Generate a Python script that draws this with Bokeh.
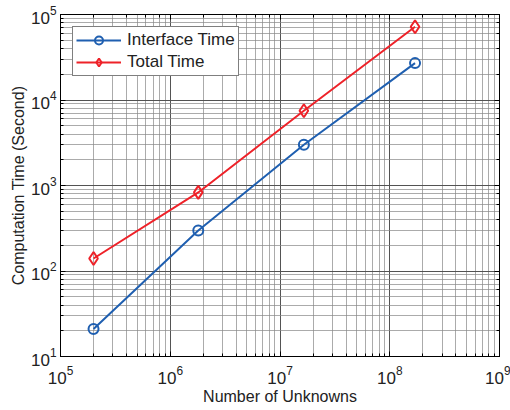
from bokeh.plotting import figure
from bokeh.models import LogAxis, Legend, LegendItem, LogTicker, Range1d
from bokeh.embed import file_html
from bokeh.resources import INLINE

unknowns = [2.0e5, 1.8e6, 1.65e7, 1.7e8]
interface_time = [21, 298, 3000, 27000]
total_time = [140, 830, 7500, 72000]

BLUE = "#1f5fb0"
RED = "#ee2229"
FONT = "Liberation Sans"

p = figure(width=510, height=410, x_axis_type="log", y_axis_type="log",
           x_range=Range1d(1e5, 1e9), y_range=Range1d(1e1, 1e5),
           output_backend="svg", toolbar_location=None,
           x_axis_label="Number of Unknowns",
           y_axis_label="Computation Time (Second)")
p.min_border_left = 60
p.min_border_right = 11
p.min_border_top = 14
p.min_border_bottom = 54
p.outline_line_color = "black"
p.outline_line_width = 1

for ax in (p.xaxis[0], p.yaxis[0]):
    ax.major_tick_in = 5
    ax.major_tick_out = 0
    ax.minor_tick_in = 3
    ax.minor_tick_out = 0
    ax.axis_line_color = "black"
    ax.major_label_text_font = FONT
    ax.major_label_text_font_size = "17px"
    ax.major_label_text_color = "#222222"
    ax.axis_label_text_font = FONT
    ax.axis_label_text_font_size = "16px"
    ax.axis_label_text_font_style = "normal"
    ax.axis_label_text_color = "#222222"
p.xaxis[0].axis_label_standoff = 1
p.yaxis[0].axis_label_standoff = 1
p.xaxis[0].major_label_standoff = 9
p.yaxis[0].major_label_standoff = 4

for loc in ("above", "right"):
    ax = LogAxis(ticker=LogTicker(), major_tick_in=5, major_tick_out=0,
                 minor_tick_in=3, minor_tick_out=0,
                 major_label_text_color=None, major_label_text_font_size="6px",
                 major_label_standoff=0)
    p.add_layout(ax, loc)

for g in (p.xgrid[0], p.ygrid[0]):
    g.grid_line_color = "#444444"
    g.grid_line_alpha = 0.8
    g.minor_grid_line_color = "#888888"
    g.minor_grid_line_alpha = 0.7

l1 = p.line(unknowns, interface_time, line_color=BLUE, line_width=2)
m1 = p.scatter(unknowns, interface_time, marker="circle", size=10,
               line_color=BLUE, line_width=2, fill_color=None)
l2 = p.line(unknowns, total_time, line_color=RED, line_width=2)
m2 = p.scatter(unknowns, total_time, marker="diamond", size=13,
               line_color=RED, line_width=2, fill_color=None)

legend = Legend(items=[LegendItem(label="Interface Time", renderers=[l1, m1]),
                       LegendItem(label="Total Time", renderers=[l2, m2])],
                location="top_left")
legend.label_text_font = FONT
legend.label_text_font_size = "17px"
legend.label_text_color = "#222222"
legend.border_line_color = "black"
legend.border_line_width = 1
legend.background_fill_alpha = 1
legend.glyph_width = 45
legend.spacing = 2
legend.padding = 3
legend.margin = 12
legend.label_standoff = 6
p.add_layout(legend)

open("out.html", "w").write(file_html(p, INLINE))
